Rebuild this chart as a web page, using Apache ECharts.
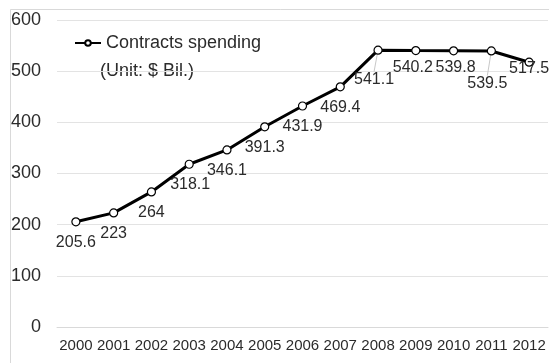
<!DOCTYPE html>
<html>
<head>
<meta charset="utf-8">
<script src="https://cdn.jsdelivr.net/npm/echarts@6/dist/echarts.min.js"></script>
<style>html,body{margin:0;padding:0;background:#fff;}#c{width:549px;height:363px;}</style>
</head>
<body>
<div id="c"></div>
<script>
const years = ['2000','2001','2002','2003','2004','2005','2006','2007','2008','2009','2010','2011','2012'];
const spending = [205.6, 223, 264, 318.1, 346.1, 391.3, 431.9, 469.4, 541.1, 540.2, 539.8, 539.5, 517.5];
const seriesName = 'Contracts spending';
const unitNote = '(Unit: $ Bil.)';
const yTicks = [0, 100, 200, 300, 400, 500, 600];

// label position tweaks (style only)
const labelShift = {3: [1, 0], 8: [-4, 9], 9: [-3, -4], 10: [2, -4], 11: [-4, 12], 12: [0, -14]};
const guideLines = {8: true, 11: true};

const FONT = '"Liberation Sans", Arial, sans-serif';
const TXT = '#2b2b2b';

const chart = echarts.init(document.getElementById('c'), null, {renderer: 'canvas'});
chart.setOption({
  animation: false,
  backgroundColor: '#ffffff',
  grid: {left: 57, right: 1, top: 20, bottom: 36},
  legend: {
    show: true,
    left: 69, top: 29,
    itemWidth: 26, itemHeight: 7,
    data: [seriesName],
    textStyle: {fontFamily: FONT, fontSize: 18, color: TXT}
  },
  graphic: [
    {type: 'rect', left: 8, top: 7, z: -1, shape: {width: 700, height: 500},
     style: {fill: 'none', stroke: '#d9d9d9', lineWidth: 1}},
    {type: 'text', left: 100, top: 62, style: {text: unitNote, font: '18px ' + FONT, fill: TXT}}
  ],
  xAxis: {
    type: 'category', data: years, boundaryGap: true,
    axisLine: {lineStyle: {color: '#d9d9d9'}},
    axisTick: {show: false},
    axisLabel: {fontFamily: FONT, fontSize: 15, color: TXT, margin: 11, interval: 0}
  },
  yAxis: {
    type: 'value', min: yTicks[0], max: yTicks[yTicks.length - 1], interval: 100,
    axisLine: {show: false}, axisTick: {show: false},
    splitLine: {lineStyle: {color: '#e3e3e3'}},
    axisLabel: {fontFamily: FONT, fontSize: 18, color: TXT, margin: 16}
  },
  series: [{
    name: seriesName, type: 'line',
    data: spending.map((v, i) => ({
      value: v,
      labelLine: {show: !!guideLines[i]}
    })),
    symbol: 'circle', symbolSize: 8,
    itemStyle: {color: '#ffffff', borderColor: '#000000', borderWidth: 1.2},
    lineStyle: {color: '#000000', width: 3},
    label: {show: true, position: 'bottom', distance: 8, fontFamily: FONT, fontSize: 16, color: TXT},
    labelLayout: function (p) {
      const m = labelShift[p.dataIndex];
      return m ? {dx: m[0], dy: m[1]} : {};
    },
    labelLine: {show: false, showAbove: false, lineStyle: {color: '#c8c8c8', width: 1}}
  }]
});
</script>
</body>
</html>
